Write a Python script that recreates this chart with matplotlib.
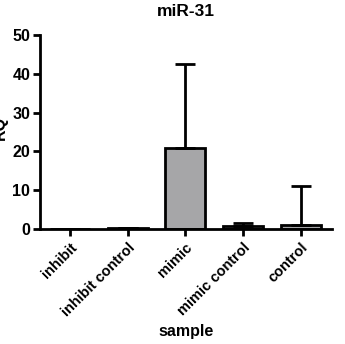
import matplotlib
matplotlib.use('Agg')
import matplotlib.pyplot as plt

samples = ['inhibit', 'inhibit control', 'mimic', 'mimic control', 'control']
rq = [0.0, 0.3, 21.0, 0.7, 1.0]
err_up = [0.0, 0.1, 21.5, 0.8, 10.0]

plt.rcParams['font.family'] = 'Liberation Sans'
plt.rcParams['font.weight'] = 'bold'

fig = plt.figure(figsize=(3.45, 3.44), dpi=100)
ax = fig.add_axes([0.116, 0.334, 0.846, 0.564])

x = list(range(len(samples)))
ax.bar(x, rq, width=0.69, color='#a6a6a8', edgecolor='black', linewidth=2, zorder=2)
ax.errorbar(x, rq, yerr=[[0] * len(x), err_up], fmt='none', ecolor='black',
            elinewidth=2, capsize=7, capthick=2, zorder=3)

ax.set_xlim(-0.52, 4.54)
ax.set_ylim(0, 50)
ax.set_yticks([0, 10, 20, 30, 40, 50])
ax.set_xticks(x)
ax.set_xticklabels(samples, rotation=45, ha='right', rotation_mode='anchor', fontsize=10.5, fontweight='bold')
ax.tick_params(axis='y', labelsize=11.5, width=2, length=5, pad=2)
ax.tick_params(axis='x', width=2, length=5, pad=3)
for lab in ax.get_yticklabels():
    lab.set_fontweight('bold')

ax.spines['top'].set_visible(False)
ax.spines['right'].set_visible(False)
ax.spines['left'].set_linewidth(2)
ax.spines['bottom'].set_linewidth(2)

ax.set_title('miR-31', fontsize=12.5, fontweight='bold', pad=14)
ax.set_xlabel('sample', fontsize=11.5, fontweight='bold')
ax.xaxis.set_label_coords(0.5, -0.49)
ax.set_ylabel('RQ', fontsize=11.5, fontweight='bold')
ax.yaxis.set_label_coords(-0.11, 0.52)

fig.savefig('out.png', dpi=100)
